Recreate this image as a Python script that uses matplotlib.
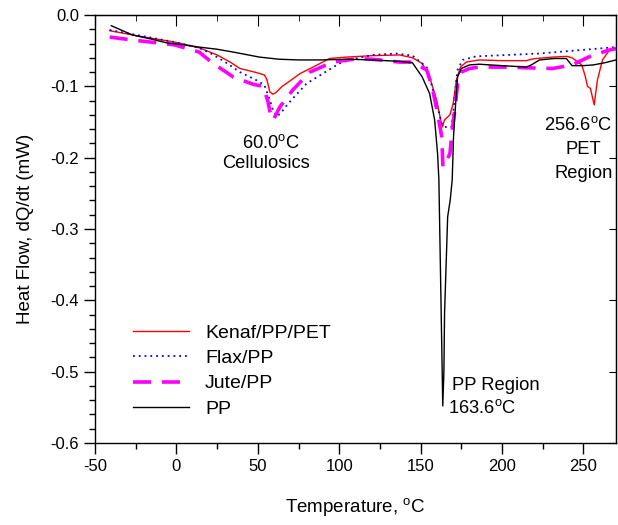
import matplotlib
matplotlib.use("Agg")
import matplotlib.pyplot as plt
from matplotlib.ticker import MultipleLocator

plt.rcParams['font.family'] = ['Liberation Sans', 'DejaVu Sans']
plt.rcParams['mathtext.fontset'] = 'custom'
plt.rcParams['mathtext.rm'] = 'Liberation Sans'
plt.rcParams['axes.unicode_minus'] = False

# PP (black)
pp_x = [-40, -27, -15, -6, 5, 14, 25, 35, 51, 63, 75, 88, 106, 120, 137, 145, 151, 155.5,
        158.6, 160.4, 161.2, 162.5, 163.6, 164.3, 164.7, 166.6, 168.2, 169.4, 170.2, 171.5,
        172.7, 175, 180, 186, 200, 215, 218, 223, 232, 239.5, 243, 250, 256, 263, 270]
pp_y = [-0.015, -0.028, -0.034, -0.039, -0.042, -0.045, -0.048, -0.052, -0.059, -0.062,
        -0.063, -0.063, -0.062, -0.063, -0.065, -0.067, -0.087, -0.110, -0.147, -0.194,
        -0.230, -0.400, -0.548, -0.500, -0.418, -0.283, -0.259, -0.231, -0.171, -0.124,
        -0.087, -0.075, -0.070, -0.069, -0.071, -0.073, -0.070, -0.063, -0.061, -0.061,
        -0.071, -0.071, -0.070, -0.067, -0.063]

# Kenaf/PP/PET (red)
kenaf_x = [-41, -22, -1, 14, 25, 33, 39, 48, 51, 54, 55.5, 57.4, 59.2, 61, 65, 70, 76, 84,
           94, 104.6, 120.5, 137, 145, 151, 155.5, 159.8, 162.3, 163.4, 164.7, 168, 170, 172,
           174.5, 178, 186, 200, 215, 218, 221, 231, 240, 243, 249, 251, 252.5, 254.3,
           255.5, 256.6, 258.6, 261.7, 266, 270]
kenaf_y = [-0.022, -0.030, -0.038, -0.046, -0.056, -0.066, -0.075, -0.080, -0.082, -0.084,
           -0.090, -0.108, -0.111, -0.109, -0.100, -0.092, -0.082, -0.073, -0.061, -0.059,
           -0.057, -0.056, -0.060, -0.068, -0.087, -0.119, -0.147, -0.157, -0.147, -0.140,
           -0.124, -0.091, -0.073, -0.066, -0.063, -0.064, -0.064, -0.062, -0.061, -0.059,
           -0.058, -0.060, -0.070, -0.085, -0.100, -0.103, -0.115, -0.126, -0.091, -0.063,
           -0.049, -0.047]

# Flax/PP (blue dotted)
flax_x = [-41, -22, -1, 14, 22, 30, 39, 48, 54, 57.4, 59.5, 61.6, 64, 68, 71.5, 80, 90, 100,
          108, 120.5, 135, 145, 153.7, 157, 160.4, 163, 164.7, 169, 170, 171.5, 172.7, 175.8,
          184, 223, 270]
flax_y = [-0.021, -0.029, -0.038, -0.046, -0.055, -0.066, -0.080, -0.090, -0.098, -0.119,
          -0.135, -0.142, -0.138, -0.126, -0.117, -0.096, -0.082, -0.068, -0.062, -0.056,
          -0.054, -0.057, -0.073, -0.100, -0.129, -0.152, -0.157, -0.157, -0.138, -0.100,
          -0.077, -0.063, -0.058, -0.054, -0.045]

# Jute/PP (magenta dashed)
jute_x = [-41, -27, -1, 14, 22, 35, 47, 53, 56, 58.5, 60, 63.5, 71.5, 82, 96, 112, 120, 137,
          145, 153.7, 157, 160.4, 163, 163.7, 165.3, 168, 169.6, 171.5, 172.7, 175, 180, 186,
          200, 231, 243, 255, 266, 270]
jute_y = [-0.031, -0.035, -0.042, -0.052, -0.067, -0.087, -0.097, -0.100, -0.119, -0.147,
          -0.145, -0.129, -0.105, -0.080, -0.066, -0.061, -0.062, -0.066, -0.066, -0.077,
          -0.100, -0.138, -0.171, -0.213, -0.208, -0.194, -0.157, -0.124, -0.096, -0.080,
          -0.075, -0.073, -0.073, -0.075, -0.070, -0.057, -0.049, -0.047]

fig = plt.figure(figsize=(6.18, 5.25), dpi=100)
ax = fig.add_axes([95/618, 1-443/525, (616-95)/618, (443-15)/525])

ax.plot(kenaf_x, kenaf_y, color='#ff0000', lw=1.0, label='Kenaf/PP/PET')
ax.plot(flax_x, flax_y, color='#0000ff', lw=1.3, linestyle=(0, (1, 2.2)), label='Flax/PP')
ax.plot(jute_x, jute_y, color='#ff00ff', lw=2.6, linestyle=(0, (5, 3)), label='Jute/PP')
ax.plot(pp_x, pp_y, color='black', lw=1.0, label='PP')

ax.set_xlim(-50, 270)
ax.set_ylim(-0.6, 0.0)
ax.xaxis.set_major_locator(MultipleLocator(50))
ax.xaxis.set_minor_locator(MultipleLocator(25))
ax.yaxis.set_major_locator(MultipleLocator(0.1))
ax.yaxis.set_minor_locator(MultipleLocator(0.02))
ax.yaxis.set_major_formatter(plt.FuncFormatter(lambda v, p: f"{v:.1f}"))

ax.tick_params(which='major', direction='out', length=8, width=1, labelsize=12)
ax.tick_params(which='minor', direction='out', length=4.5, width=1)
for s in ax.spines.values():
    s.set_linewidth(1.0)

secx = ax.secondary_xaxis('top')
secx.xaxis.set_major_locator(MultipleLocator(50))
secx.xaxis.set_minor_locator(MultipleLocator(25))
secx.tick_params(which='major', direction='in', length=8, labeltop=False)
secx.tick_params(which='minor', direction='in', length=4)

secy = ax.secondary_yaxis('right')
secy.yaxis.set_major_locator(MultipleLocator(0.1))
secy.yaxis.set_minor_locator(MultipleLocator(0.02))
secy.tick_params(which='major', direction='in', length=5, labelright=False)
secy.tick_params(which='minor', direction='in', length=0)

ax.set_xlabel('Temperature, $^\\mathregular{o}$C', fontsize=13.5, labelpad=16)
ax.set_ylabel('Heat Flow, dQ/dt (mW)', fontsize=13.5, labelpad=12)

fs = 13.2
ax.text(58, -0.18, '60.0$^\\mathregular{o}$C', ha='center', va='center', fontsize=fs)
ax.text(55, -0.208, 'Cellulosics', ha='center', va='center', fontsize=fs)
ax.text(246.5, -0.154, '256.6$^\\mathregular{o}$C', ha='center', va='center', fontsize=fs)
ax.text(250, -0.189, 'PET', ha='center', va='center', fontsize=fs)
ax.text(250, -0.222, 'Region', ha='center', va='center', fontsize=fs)
ax.text(169.5, -0.519, 'PP Region', ha='left', va='center', fontsize=fs)
ax.text(167, -0.551, '163.6$^\\mathregular{o}$C', ha='left', va='center', fontsize=fs)

ax.legend(loc='upper left', bbox_to_anchor=(0.073, 0.278), frameon=False,
          fontsize=14, handlelength=2.9, handletextpad=0.8, borderpad=0,
          borderaxespad=0, labelspacing=0.4)

fig.savefig('out.png', dpi=100)
